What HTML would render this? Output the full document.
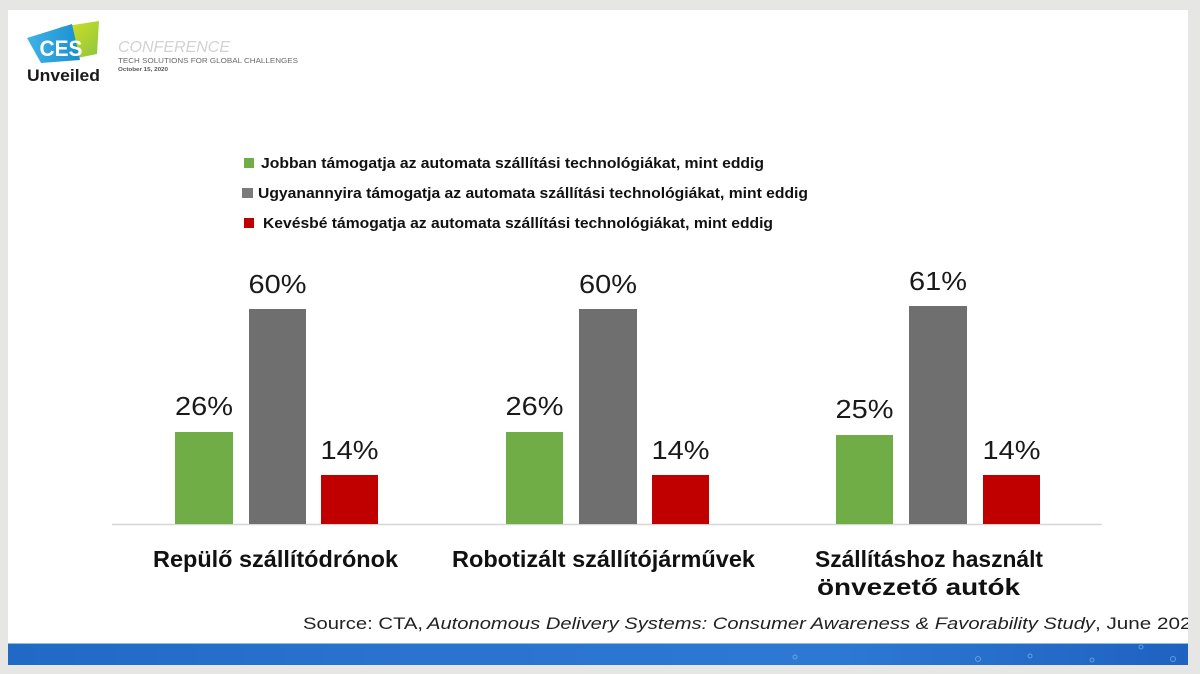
<!DOCTYPE html>
<html><head><meta charset="utf-8"><style>
html,body{margin:0;padding:0;background:#e6e6e4;}
svg{display:block;}
text{font-family:"Liberation Sans",sans-serif;}
</style></head><body>
<svg width="1200" height="674" viewBox="0 0 1200 674" xmlns="http://www.w3.org/2000/svg">
<defs>
<linearGradient id="band" x1="0" x2="1" y1="0" y2="0">
<stop offset="0" stop-color="#2069c6"/>
<stop offset="0.35" stop-color="#2a73cf"/>
<stop offset="0.7" stop-color="#2c79d3"/>
<stop offset="1" stop-color="#1f62c1"/>
</linearGradient>
<linearGradient id="lg" x1="0" x2="1" y1="0" y2="1">
<stop offset="0" stop-color="#d9e021"/>
<stop offset="1" stop-color="#8cc63f"/>
</linearGradient>
<linearGradient id="lb" x1="0" x2="1" y1="0" y2="0">
<stop offset="0" stop-color="#3fb3e6"/>
<stop offset="1" stop-color="#1a8fd0"/>
</linearGradient>
</defs>
<!-- frame -->
<rect x="0" y="0" width="1200" height="674" fill="#e6e6e4"/>
<!-- slide -->
<rect x="8" y="10" width="1180" height="655" fill="#ffffff"/>
<!-- logo -->
<polygon points="60,27 99,21 97,54 77,58" fill="url(#lg)"/>
<polygon points="27,38 72,24 80,60 41,63" fill="url(#lb)"/>
<text x="61" y="56" font-size="22" font-weight="bold" fill="#ffffff" text-anchor="middle" textLength="43" lengthAdjust="spacingAndGlyphs">CES</text>
<text x="27" y="81" font-size="17" font-weight="bold" fill="#1a1a1a" textLength="73" lengthAdjust="spacingAndGlyphs">Unveiled</text>
<text x="118" y="52" font-size="16" font-style="italic" fill="#d2d2d2" textLength="112" lengthAdjust="spacingAndGlyphs">CONFERENCE</text>
<text x="118" y="63" font-size="7.5" fill="#6a6a6a" textLength="180" lengthAdjust="spacingAndGlyphs">TECH SOLUTIONS FOR GLOBAL CHALLENGES</text>
<text x="118" y="71" font-size="5.5" font-weight="bold" fill="#555" textLength="50" lengthAdjust="spacingAndGlyphs">October 15, 2020</text>
<!-- legend -->
<rect x="244" y="158" width="10" height="10" fill="#70ad47"/>
<text x="261" y="168" font-size="15" font-weight="bold" fill="#111" textLength="503" lengthAdjust="spacingAndGlyphs">Jobban támogatja az automata szállítási technológiákat, mint eddig</text>
<rect x="242" y="188" width="11" height="10" fill="#7a7a7a"/>
<text x="258" y="198" font-size="15" font-weight="bold" fill="#111" textLength="550" lengthAdjust="spacingAndGlyphs">Ugyanannyira támogatja az automata szállítási technológiákat, mint eddig</text>
<rect x="244" y="218" width="10" height="10" fill="#c00000"/>
<text x="263" y="228" font-size="15" font-weight="bold" fill="#111" textLength="510" lengthAdjust="spacingAndGlyphs">Kevésbé támogatja az automata szállítási technológiákat, mint eddig</text>
<!-- axis -->
<line x1="112" y1="524.5" x2="1102" y2="524.5" stroke="#d6d6d6" stroke-width="1.5"/>
<!-- group 1 -->
<rect x="175" y="432" width="58" height="92" fill="#70ad47"/>
<rect x="249" y="309" width="57" height="215" fill="#6f6f6f"/>
<rect x="321" y="475" width="57" height="49" fill="#c00000"/>
<!-- group 2 -->
<rect x="506" y="432" width="57" height="92" fill="#70ad47"/>
<rect x="579" y="309" width="58" height="215" fill="#6f6f6f"/>
<rect x="652" y="475" width="57" height="49" fill="#c00000"/>
<!-- group 3 -->
<rect x="836" y="435" width="57" height="89" fill="#70ad47"/>
<rect x="909" y="306" width="58" height="218" fill="#6f6f6f"/>
<rect x="983" y="475" width="57" height="49" fill="#c00000"/>
<!-- value labels -->
<g font-size="26" fill="#1a1a1a" text-anchor="middle">
<text x="204" y="415" textLength="58" lengthAdjust="spacingAndGlyphs">26%</text>
<text x="277.5" y="293" textLength="58" lengthAdjust="spacingAndGlyphs">60%</text>
<text x="349.5" y="459" textLength="58" lengthAdjust="spacingAndGlyphs">14%</text>
<text x="534.5" y="415" textLength="58" lengthAdjust="spacingAndGlyphs">26%</text>
<text x="608" y="293" textLength="58" lengthAdjust="spacingAndGlyphs">60%</text>
<text x="680.5" y="459" textLength="58" lengthAdjust="spacingAndGlyphs">14%</text>
<text x="864.5" y="418" textLength="58" lengthAdjust="spacingAndGlyphs">25%</text>
<text x="938" y="290" textLength="58" lengthAdjust="spacingAndGlyphs">61%</text>
<text x="1011.5" y="459" textLength="58" lengthAdjust="spacingAndGlyphs">14%</text>
</g>
<!-- category labels -->
<g font-size="23" font-weight="bold" fill="#111">
<text x="153" y="567" textLength="245" lengthAdjust="spacingAndGlyphs">Repülő szállítódrónok</text>
<text x="452" y="567" textLength="303" lengthAdjust="spacingAndGlyphs">Robotizált szállítójárművek</text>
<text x="815" y="567" textLength="228" lengthAdjust="spacingAndGlyphs">Szállításhoz használt</text>
<text x="817" y="595" textLength="203" lengthAdjust="spacingAndGlyphs">önvezető autók</text>
</g>
<!-- source -->
<g font-size="17" fill="#222">
<text x="303" y="629" textLength="120" lengthAdjust="spacingAndGlyphs">Source: CTA,</text>
<text x="427" y="629" font-style="italic" textLength="668" lengthAdjust="spacingAndGlyphs">Autonomous Delivery Systems: Consumer Awareness &amp; Favorability Study</text>
<text x="1095" y="629" textLength="108" lengthAdjust="spacingAndGlyphs">, June 2020</text>
</g>
<!-- bottom band -->
<rect x="8" y="643" width="1180" height="22" fill="url(#band)"/>
<line x1="8" y1="643.5" x2="1188" y2="643.5" stroke="#8dbbec" stroke-width="1"/>
<g fill="none" stroke="#7fb4ee" stroke-width="1" opacity="0.7">
<circle cx="795" cy="657" r="2"/>
<circle cx="978" cy="659" r="2.5"/>
<circle cx="1030" cy="656" r="2"/>
<circle cx="1092" cy="660" r="2"/>
<circle cx="1173" cy="659" r="2.5"/>
<circle cx="1141" cy="647" r="2"/>
</g>
<!-- right frame overlay -->
<rect x="1188" y="0" width="12" height="674" fill="#e6e6e4"/>
<rect x="0" y="665" width="1200" height="9" fill="#e6e6e4"/>
</svg>
</body></html>
